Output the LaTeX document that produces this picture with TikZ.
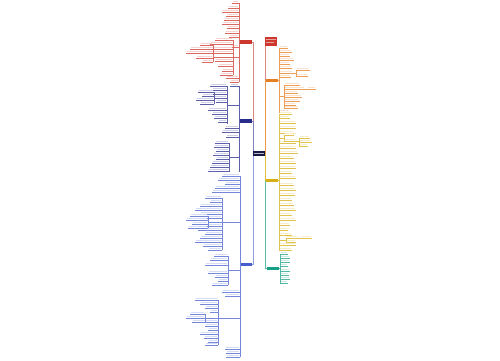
\documentclass[tikz,border=0pt]{standalone}
\usetikzlibrary{calc}
\definecolor{cr}{RGB}{205,55,45}
\definecolor{cn}{RGB}{40,45,140}
\definecolor{cb}{RGB}{70,95,205}
\definecolor{co}{RGB}{230,126,34}
\definecolor{cy}{RGB}{215,175,20}
\definecolor{cg}{RGB}{22,160,133}
\definecolor{cc}{RGB}{25,25,70}
\newcommand\LL[4]{\draw[#1!75,line width=.3pt] (#2,#3) -- (#4,#3);
  \fill[#1!22] ({#4+.6},{#3-2.1}) rectangle ({#2-1.4},{#3-.8});}
\newcommand\RL[4]{\draw[#1!75,line width=.3pt] (#2,#3) -- (#4,#3);
  \fill[#1!22] ({#2+1.4},{#3-2.1}) rectangle ({#4-.6},{#3-.8});}
\newcommand\SP[4]{\draw[#1!75,line width=.3pt] (#2,#3) -- (#2,#4);}
\tikzset{mainbox/.style={draw=none,inner sep=0pt,minimum width=12pt,minimum height=3.6pt}}
\begin{document}
\begin{tikzpicture}[x=1pt,y=-1pt]
\useasboundingbox (0,0) rectangle (500,360);
\fill[white] (0,0) rectangle (500,360);
% ---------- trunk connectors ----------
\coordinate (cw) at (253,153.5);
\coordinate (ce) at (265,153.5);
\draw[cr!60,line width=.4pt] (cw) -- ++(-.3,0) |- (246,42);
\draw[cn!60,line width=.4pt] (cw) -- ++(-.3,0) |- (246,121);
\draw[cb!60,line width=.4pt] (cw) -- ++(-.3,0) |- (246,264.5);
\draw[cg!70,line width=.4pt] (ce) -- ++(.3,0) |- (271,268.5);
\draw[cy!80,line width=.4pt] (ce) -- ++(.3,0) |- (271,180.5);
\draw[cr!60,line width=.4pt] (ce) -- ++(.3,0) |- (271,41);
\draw[co!80,line width=.4pt] (ce) -- ++(.3,0) |- (271,80.5);
% ---------- main nodes ----------
\node[mainbox,fill=cc,minimum width=12pt,minimum height=5pt] (center) at (259,153.5) {};
\node[mainbox,fill=cr] (lred) at (246,42) {};
\node[mainbox,fill=cn] (lblue1) at (246,121) {};
\node[mainbox,fill=cb] (lblue2) at (246,264.5) {};
\node[mainbox,fill=cr,minimum height=9pt] (rred) at (271,41) {};
\node[mainbox,fill=co] (rorange) at (271.5,80.5) {};
\node[mainbox,fill=cy] (ryellow) at (272,180.5) {};
\node[mainbox,fill=cg] (rgreen) at (272.5,268.5) {};
\fill[white!70!cc] ($(center.west)+(1.5,-.5)$) rectangle ($(center.east)+(-1.5,.5)$);
\fill[cr!45!white] ($(rred.north west)+(1.5,2.2)$) rectangle ($(rred.north east)+(-1.5,3)$);
\fill[cr!45!white] ($(rred.north west)+(1.5,5.8)$) rectangle ($(rred.north east)+(-3,6.6)$);
% ---------- left red ----------
\draw[cr!75,line width=.3pt] (lred.west) -- (239,42);
\SP{cr}{239}{3}{82}
\foreach \y/\x in {3/232,8/228,12/222,16/226,20/224,24/222,28/227,33/225,37/229,47/230,78/226,82/230}
  {\LL{cr}{239}{\y}{\x}}
\draw[cr!75,line width=.3pt] (239,57) -- (233,57);
\SP{cr}{233}{40}{75}
\foreach \y/\x in {40/215,44/210,49/205,53/200,61/215,66/218,71/222,75/220}
  {\LL{cr}{233}{\y}{\x}}
\draw[cr!75,line width=.3pt] (233,57) -- (213,57);
\SP{cr}{213}{45}{62}
\foreach \y/\x in {45/200,49/190,53/186,58/196,62/202}
  {\LL{cr}{213}{\y}{\x}}
% ---------- left blue 1 ----------
\draw[cn!75,line width=.3pt] (lblue1.west) -- (239,121);
\SP{cn}{239}{86}{172}
\draw[cn!75,line width=.3pt] (239,105) -- (227,105);
\SP{cn}{227}{86}{124}
\foreach \y/\x in {86/210,90/212,94/206,98/214,102/216,110/208,114/212,118/214,122/218}
  {\LL{cn}{227}{\y}{\x}}
\foreach \y/\x in {86/230,128/225,132/222,137/226}
  {\LL{cn}{239}{\y}{\x}}
\draw[cn!75,line width=.3pt] (239,157) -- (229,157);
\SP{cn}{229}{143}{172}
\foreach \y/\x in {143/215,147/214,151/216,155/213,159/216,163/212,167/210,171/208}
  {\LL{cn}{229}{\y}{\x}}
\draw[cn!75,line width=.3pt] (227,98) -- (214,98);
\SP{cn}{214}{92}{104}
\foreach \y/\x in {92/198,96/202,100/196,104/200}
  {\LL{cn}{214}{\y}{\x}}
% ---------- left blue 2 ----------
\draw[cb!75,line width=.3pt] (lblue2.west) -- (240,264.5);
\SP{cb}{240}{176}{357}
\foreach \y/\x in {176/222,180/218,184/225,188/215,192/212,292/222,296/225,349/225,353/226,357/226}
  {\LL{cb}{240}{\y}{\x}}
\draw[cb!75,line width=.3pt] (240,222) -- (222,222);
\SP{cb}{222}{198}{250}
\foreach \y/\x in {198/205,202/210,206/200,210/195,214/200,218/205,226/192,230/198,234/205,238/200,242/195,246/203,250/208}
  {\LL{cb}{222}{\y}{\x}}
\draw[cb!75,line width=.3pt] (222,222) -- (208,222);
\SP{cb}{208}{216}{228}
\foreach \y/\x in {216/190,220/186,224/192,228/188}
  {\LL{cb}{208}{\y}{\x}}
\draw[cb!75,line width=.3pt] (240,270) -- (228,270);
\SP{cb}{228}{256}{285}
\foreach \y/\x in {256/214,260/210,265/205,273/208,277/215,281/218,285/212}
  {\LL{cb}{228}{\y}{\x}}
\draw[cb!75,line width=.3pt] (240,318) -- (218,318);
\SP{cb}{218}{300}{345}
\foreach \y/\x in {300/195,304/200,308/205,312/210,322/195,326/205,330/208,334/200,338/204,342/208,345/205}
  {\LL{cb}{218}{\y}{\x}}
\draw[cb!75,line width=.3pt] (218,318) -- (205,318);
\SP{cb}{205}{314}{322}
\foreach \y/\x in {314/190,318/186,322/192}
  {\LL{cb}{205}{\y}{\x}}
% ---------- right orange ----------
\draw[co!75,line width=.3pt] (rorange.east) -- (279,80.5);
\SP{co}{279}{48}{112}
\foreach \y/\x in {48/288,52/292,56/290,60/294,64/290,68/292,73/293,77/291,112/290}
  {\RL{co}{279}{\y}{\x}}
\draw[co!75,line width=.3pt] (293,73) -- (296,73);
\SP{co}{296}{70}{76}
\foreach \y/\x in {70/310,76/308}
  {\RL{co}{296}{\y}{\x}}
\draw[co!75,line width=.3pt] (279,96) -- (284,96);
\SP{co}{284}{85}{108}
\foreach \y/\x in {85/300,89/305,93/298,97/302,101/300,105/296,108/298}
  {\RL{co}{284}{\y}{\x}}
\draw[co!75,line width=.3pt] (305,89) -- (307,89);
\RL{co}{307}{89}{316}
% ---------- right yellow ----------
\draw[cy!75,line width=.3pt] (ryellow.east) -- (279,180.5);
\SP{cy}{279}{114}{250}
\foreach \y/\x in {114/292,118/290,123/296,128/296,133/294,143/296,148/296,153/298,158/294,163/296,168/296,173/292,178/296,185/294,190/296,195/295,200/292,205/294,210/296,215/292,220/296,225/290,230/288,235/292,245/296,250/292}
  {\RL{cy}{279}{\y}{\x}}
\draw[cy!75,line width=.3pt] (279,138) -- (284,138);
\SP{cy}{284}{135}{141}
\foreach \y/\x in {135/294,141/296}
  {\RL{cy}{284}{\y}{\x}}
\draw[cy!75,line width=.3pt] (296,141) -- (299,141);
\SP{cy}{299}{138}{146}
\foreach \y/\x in {138/310,142/312,146/308}
  {\RL{cy}{299}{\y}{\x}}
\draw[cy!75,line width=.3pt] (279,240) -- (286,240);
\SP{cy}{286}{238}{242}
\foreach \y/\x in {238/298,242/296}
  {\RL{cy}{286}{\y}{\x}}
\draw[cy!75,line width=.3pt] (298,238) -- (301,238);
\RL{cy}{301}{238}{312}
% ---------- right green ----------
\draw[cg!75,line width=.3pt] (rgreen.east) -- (280,268.5);
\SP{cg}{280}{254}{283}
\foreach \y/\x in {254/288,258/290,262/290,266/288,271/290,275/289,279/290,283/288}
  {\RL{cg}{280}{\y}{\x}}
\end{tikzpicture}
\end{document}
